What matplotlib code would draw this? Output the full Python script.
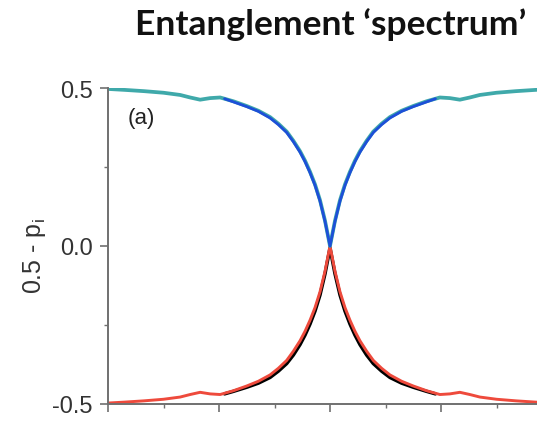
"""Entanglement 'spectrum' panel (a): 0.5 - p_i across the cut."""

import matplotlib.pyplot as plt
from matplotlib.ticker import MultipleLocator

plt.rcParams["font.family"] = ["Liberation Sans", "DejaVu Sans"]

# positions along the chain (tick units) and the two branches of 0.5 - p_i
x = [0.0, 0.3, 0.65, 1.0, 1.3, 1.48, 1.66, 1.84, 2.02, 2.26, 2.5, 2.71,
     2.92, 3.07, 3.22, 3.34, 3.46, 3.55, 3.64, 3.73, 3.82, 3.91, 4.0,
     4.09, 4.18, 4.27, 4.36, 4.45, 4.54, 4.66, 4.78, 4.93, 5.08, 5.29, 5.5,
     5.74, 5.98, 6.16, 6.34, 6.52, 6.7, 7.0, 7.35, 7.7, 8.0]
upper_teal = [0.497, 0.494, 0.490, 0.485, 0.478, 0.470, 0.463, 0.468,
              0.470, 0.458, 0.443, 0.428, 0.408, 0.387, 0.362, 0.333, 0.300,
              0.270, 0.235, 0.195, 0.145, 0.080, 0.0,
              0.080, 0.145, 0.195, 0.235, 0.270, 0.300, 0.333, 0.362, 0.387,
              0.408, 0.428, 0.443, 0.458, 0.470, 0.468, 0.463, 0.470, 0.478,
              0.485, 0.490, 0.494, 0.497]
lower_red = [-0.497, -0.494, -0.490, -0.485, -0.478, -0.470, -0.463, -0.468,
             -0.470, -0.458, -0.443, -0.428, -0.408, -0.387, -0.362, -0.333,
             -0.300, -0.270, -0.235, -0.195, -0.145, -0.080, 0.0,
             -0.080, -0.145, -0.195, -0.235, -0.270, -0.300, -0.333, -0.362,
             -0.387, -0.408, -0.428, -0.443, -0.458, -0.470, -0.468, -0.463,
             -0.470, -0.478, -0.485, -0.490, -0.494, -0.497]

# the second pair of runs only separates from the first near the centre
x_mid = [2.1, 2.26, 2.5, 2.71, 2.92, 3.07, 3.22, 3.34, 3.46, 3.55, 3.64,
         3.73, 3.82, 3.91, 4.0, 4.09, 4.18, 4.27, 4.36, 4.45, 4.54, 4.66,
         4.78, 4.93, 5.08, 5.29, 5.5, 5.74, 5.9]
upper_blue = [0.466, 0.456, 0.441, 0.426, 0.405, 0.384, 0.359, 0.330, 0.297,
              0.267, 0.232, 0.192, 0.142, 0.078, 0.0, 0.078, 0.142, 0.192,
              0.232, 0.267, 0.297, 0.330, 0.359, 0.384, 0.405, 0.426, 0.441,
              0.456, 0.466]
lower_black = [-0.468, -0.460, -0.447, -0.434, -0.416, -0.396, -0.372,
               -0.345, -0.312, -0.282, -0.247, -0.206, -0.155, -0.088, -0.006,
               -0.088, -0.155, -0.206, -0.247, -0.282, -0.312, -0.345, -0.372,
               -0.396, -0.416, -0.434, -0.447, -0.460, -0.468]

fig = plt.figure(figsize=(5.37, 4.27), dpi=100)
ax = fig.add_axes([108 / 537, 22 / 427, 429 / 537, 316 / 427])

line_kw = dict(solid_capstyle="round", solid_joinstyle="round")
ax.plot(x_mid, lower_black, color="black", lw=2.5, **line_kw)
ax.plot(x, lower_red, color="#ee4a3c", lw=2.1, **line_kw)
ax.plot(x, upper_teal, color="#3fa9aa", lw=2.7, **line_kw)
ax.plot(x_mid, upper_blue, color="#1d4fd8", lw=2.0, **line_kw)

ax.set_xlim(0, 429 / 55.5)
ax.set_ylim(-0.5, 0.5)

for side in ("top", "right"):
    ax.spines[side].set_visible(False)
for side in ("left", "bottom"):
    ax.spines[side].set_color("#707070")
    ax.spines[side].set_linewidth(1.4)

ax.xaxis.set_major_locator(MultipleLocator(2))
ax.xaxis.set_minor_locator(MultipleLocator(1))
ax.set_yticks([-0.5, 0.0, 0.5], labels=["-0.5", "0.0", "0.5"])
ax.yaxis.set_minor_locator(MultipleLocator(0.25))
ax.tick_params(which="major", direction="out", length=6, width=1.2,
               color="#707070", labelsize=17, labelcolor="#333333", pad=5)
ax.tick_params(which="minor", direction="out", length=3, width=1.0,
               color="#707070")
ax.tick_params(axis="x", labelbottom=False)

ax.set_ylabel(r"0.5 - p$_\mathregular{i}$", fontsize=18, color="#333333")
ax.yaxis.set_label_coords(-0.14, 0.47)
ax.text(0.36, 0.408, "(a)", fontsize=16, color="#222222", va="center")

fig.text(331 / 537, 1 - 35 / 427, "Entanglement \u2018spectrum\u2019",
         fontsize=25.5, fontweight="bold", family="Lato", ha="center",
         va="baseline", color="#111111")

fig.savefig("out.png", dpi=100)
